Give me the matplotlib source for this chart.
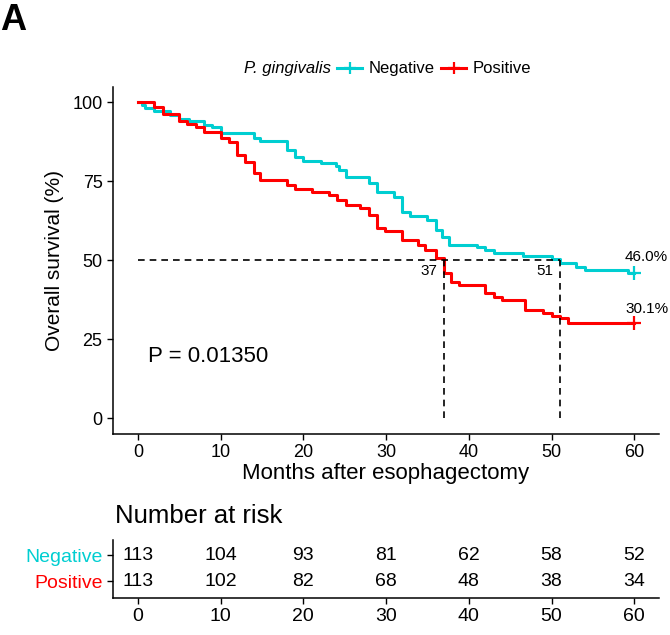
import numpy as np
import matplotlib
matplotlib.use("Agg")
import matplotlib.pyplot as plt
from matplotlib.lines import Line2D

plt.rcParams["font.family"] = ["Liberation Sans", "DejaVu Sans"]

# ---------- DATA ----------
NEG_COLOR = "#00CED1"
POS_COLOR = "#FF0000"

neg_t = [0, 0.5, 0.9, 1.9, 3.9, 5.0, 6.2, 8.0, 9.0, 10.0, 14.0, 14.8, 18.0, 19.0, 20.0,
         22.1, 23.9, 24.3, 25.1, 27.9, 28.9, 30.9, 31.9, 32.9, 34.9, 36.0, 36.8, 37.6,
         41.0, 42.0, 43.0, 46.6, 50.0, 51.0, 52.9, 54.1, 59.3, 60]
neg_s = [100, 99.1, 98.1, 97.3, 96.0, 94.7, 94.1, 93.0, 92.1, 90.4, 88.6, 87.9, 85.1, 82.6, 81.5,
         80.7, 79.8, 78.6, 76.3, 74.4, 71.7, 70.1, 65.4, 64.0, 62.8, 59.5, 57.5, 54.8,
         54.1, 53.3, 52.2, 51.4, 50.4, 49.2, 48.0, 46.9, 46.0, 46.0]

pos_t = [0, 2, 3, 5, 6, 7, 8, 10, 11, 12, 13, 14, 14.8, 18, 19, 21, 23.1, 24.1, 25.1,
         26.9, 27.9, 28.9, 29.9, 31.9, 33.9, 34.7, 36, 37, 37.8, 38.8, 42, 43, 44, 46.8,
         49, 50, 51, 52, 60]
pos_s = [100, 98.6, 96.5, 94.1, 93.1, 92.1, 90.5, 88.6, 87.5, 83.3, 81.2, 77.7, 75.4, 73.8,
         72.6, 71.7, 70.7, 69.1, 67.5, 66.5, 64.3, 60.1, 59.4, 56.4, 54.8, 53.3, 50.6, 45.9,
         43.2, 42.2, 39.6, 38.5, 37.4, 34.3, 33.2, 32.5, 31.6, 30.1, 30.1]

medians = [37, 51]
end_labels = ["46.0%", "30.1%"]
p_text = "P = 0.01350"

risk_times = [0, 10, 20, 30, 40, 50, 60]
risk_neg = [113, 104, 93, 81, 62, 58, 52]
risk_pos = [113, 102, 82, 68, 48, 38, 34]
groups = ["Negative", "Positive"]
colors = [NEG_COLOR, POS_COLOR]

# ---------- FIGURE ----------
W, H = 670, 635
fig = plt.figure(figsize=(6.7, 6.35), dpi=100)
ax = fig.add_axes([0.1687, 0.3165, 0.815, 0.547])

ax.step(neg_t, neg_s, where="post", color=NEG_COLOR, lw=2.2)
ax.step(pos_t, pos_s, where="post", color=POS_COLOR, lw=2.2)
ax.plot(neg_t[-1], neg_s[-1], marker="+", ms=10, mew=1.6, color=NEG_COLOR)
ax.plot(pos_t[-1], pos_s[-1], marker="+", ms=10, mew=1.6, color=POS_COLOR)

# median lines
dash = dict(color="black", lw=1.2, ls=(0, (4, 3)))
ax.plot([0, max(medians)], [50, 50], **dash)
for m in medians:
    ax.plot([m, m], [0, 50], **dash)
    ax.text(m - 0.8, 46.5, str(m), ha="right", va="center", fontsize=11)

ax.text(61.5, 49.0, end_labels[0], ha="center", va="bottom", fontsize=11)
ax.text(61.5, 32.5, end_labels[1], ha="center", va="bottom", fontsize=11)
ax.text(1.2, 19.5, p_text, ha="left", va="center", fontsize=16)

ax.set_xlim(-3, 63)
ax.set_ylim(-5, 105)
ax.set_xticks(risk_times)
ax.set_yticks([0, 25, 50, 75, 100])
ax.tick_params(labelsize=13, length=4, width=1, colors="black")
ax.set_xlabel("Months after esophagectomy", fontsize=16, labelpad=1)
ax.set_ylabel("Overall survival (%)", fontsize=15, labelpad=6)
for s in ["top", "right"]:
    ax.spines[s].set_visible(False)
for s in ["left", "bottom"]:
    ax.spines[s].set_linewidth(1.1)

# legend (drawn by hand so the labels share one baseline)
ly = 1 - 68 / H
lb = 1 - 73 / H
fig.text(331 / W, lb, "P. gingivalis", style="italic", ha="right", va="baseline", fontsize=12)
for x0, lab, c in zip([337, 441], groups, colors):
    fig.add_artist(Line2D([x0 / W, (x0 + 25) / W], [ly, ly], transform=fig.transFigure,
                          color=c, lw=2.2))
    fig.add_artist(Line2D([(x0 + 12.5) / W], [ly], transform=fig.transFigure,
                          color=c, marker="+", ms=9, mew=1.6))
    fig.text((x0 + 32) / W, lb, lab, ha="left", va="baseline", fontsize=12)

fig.text(0.0, 1 - 20 / H, "A", fontsize=26, fontweight="bold", ha="left", va="center")

# ---------- RISK TABLE ----------
rx = fig.add_axes([0.1687, 1 - 598 / H, 0.815, 58 / H])
for t, n in zip(risk_times, risk_neg):
    rx.text(t, 2, str(n), ha="center", va="center", fontsize=14)
for t, n in zip(risk_times, risk_pos):
    rx.text(t, 1, str(n), ha="center", va="center", fontsize=14)
rx.set_xlim(-3, 63)
rx.set_ylim(0.35, 2.6)
rx.set_xticks(risk_times)
rx.set_yticks([2, 1])
rx.set_yticklabels(groups)
for lbl, c in zip(rx.get_yticklabels(), colors):
    lbl.set_color(c)
rx.tick_params(labelsize=14, length=4, width=1)
for s in ["top", "right"]:
    rx.spines[s].set_visible(False)
for s in ["left", "bottom"]:
    rx.spines[s].set_linewidth(1.1)
fig.text(115 / W, 1 - 516 / H, "Number at risk", ha="left", va="center", fontsize=18.5)

fig.savefig("out.png", dpi=100)
